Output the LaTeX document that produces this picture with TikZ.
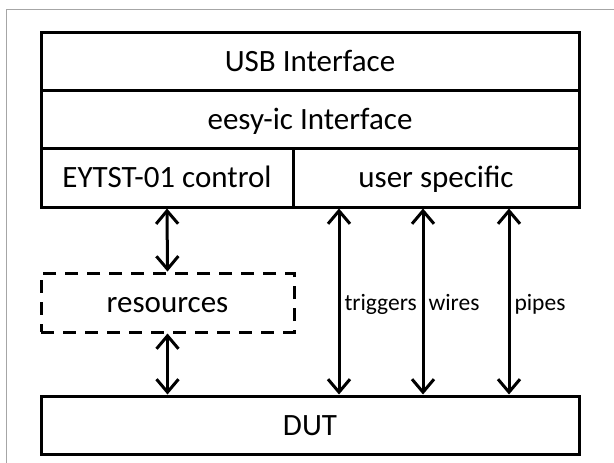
\documentclass[tikz,border=0pt]{standalone}
\usepackage{fontspec}
\setmainfont{Carlito}
\usetikzlibrary{arrows.meta}

\tikzset{
    layer/.style={draw, line width=3pt, minimum height=58pt, inner sep=0pt,
        text height=22pt, text depth=2pt, font=\fontsize{31}{36}\selectfont},
    link/.style={line width=3pt, {Straight Barb[length=13pt,width=22pt,line width=3pt]}-{Straight Barb[length=13pt,width=22pt,line width=3pt]}},
    tag/.style={right, inner sep=4pt, text height=17pt, text depth=0pt, font=\fontsize{23.5}{27}\selectfont}
}

\begin{document}
\begin{tikzpicture}[x=1pt,y=-1pt]
                \useasboundingbox (0,0) rectangle (614,463);
                \draw[gray!70, line width=1pt]
                    (6,463) -- (6,9) -- (614,9);
                \node[layer, minimum width=538pt] (usb) at (310,61) {USB Interface};
                \node[layer, minimum width=538pt] (eesy) at (310,119) {eesy-ic Interface};
                \node[layer, minimum width=252pt, minimum height=59pt] (ctl) at (167,177.5) {EYTST-01 control};
                \node[layer, minimum width=286pt, minimum height=59pt] (user) at (436,177.5) {user specific};
                \node[layer, dashed, dash pattern=on 13pt off 9pt, minimum width=253pt, minimum height=59pt]
                    (res) at (167.5,302.5) {resources};
                \node[layer, minimum width=538pt] (dut) at (310,425) {DUT};
                \draw[link]
                    (ctl.south) -- (res.north);
                \draw[link]
                    (res.south) -- (res.south |- dut.north);
                \draw[link]
                    ([xshift=-97pt]user.south) -- ([xshift=-97pt]user.south |- dut.north) node[tag, midway] {triggers};
                \draw[link]
                    ([xshift=-13pt]user.south) -- ([xshift=-13pt]user.south |- dut.north) node[tag, midway] {wires};
                \draw[link]
                    ([xshift=73pt]user.south) -- ([xshift=73pt]user.south |- dut.north) node[tag, midway] {pipes};
            \end{tikzpicture}
\end{document}
